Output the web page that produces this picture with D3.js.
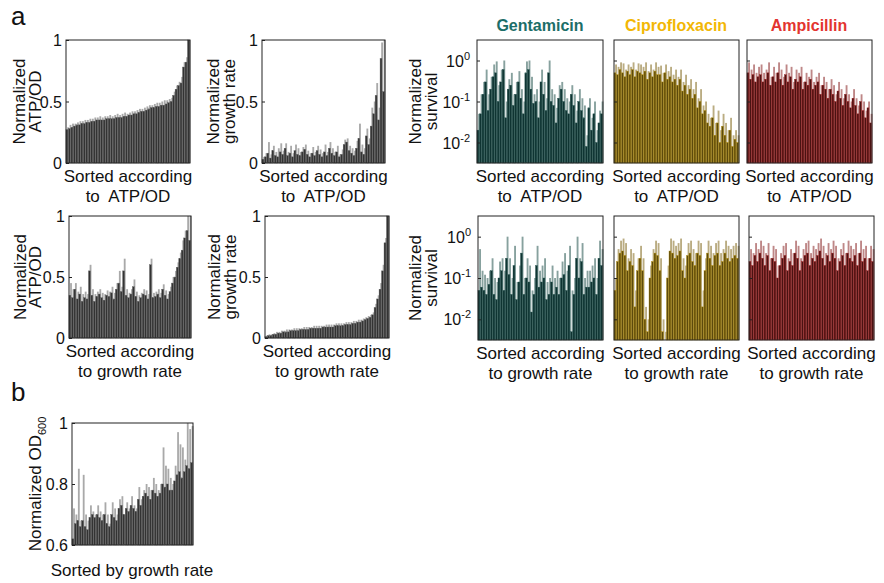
<!DOCTYPE html>
<html><head><meta charset="utf-8">
<script src="https://cdn.jsdelivr.net/npm/d3@7"></script>
<style>body{margin:0;background:#fff}svg{display:block;font-family:"Liberation Sans",Arial,sans-serif}</style>
</head><body><svg id="c" width="884" height="583"></svg>
<script>
// ---------- data ----------
const atpByAtpDark = [0.27,0.28,0.29,0.30,0.31,0.31,0.32,0.32,0.33,0.33,0.34,0.34,0.35,0.35,0.35,0.35,0.36,0.36,0.36,0.36,0.37,0.37,0.37,0.38,0.38,0.39,0.39,0.40,0.40,0.41,0.42,0.42,0.43,0.44,0.45,0.45,0.46,0.46,0.47,0.47,0.48,0.49,0.50,0.55,0.60,0.63,0.65,0.78,0.82,1.00];
const atpByAtpLight = [0.29,0.31,0.32,0.32,0.33,0.34,0.34,0.35,0.35,0.36,0.36,0.37,0.37,0.38,0.37,0.38,0.38,0.39,0.38,0.39,0.40,0.39,0.40,0.41,0.40,0.41,0.42,0.42,0.43,0.44,0.44,0.45,0.46,0.47,0.47,0.48,0.49,0.49,0.50,0.51,0.51,0.52,0.53,0.58,0.63,0.66,0.70,0.82,0.86,1.00];
const grByAtpDark = [0.03,0.05,0.08,0.04,0.10,0.06,0.05,0.09,0.07,0.12,0.06,0.08,0.05,0.10,0.07,0.06,0.09,0.11,0.07,0.05,0.08,0.06,0.10,0.07,0.05,0.09,0.06,0.12,0.08,0.06,0.09,0.05,0.07,0.15,0.17,0.10,0.08,0.06,0.12,0.20,0.09,0.07,0.22,0.15,0.30,0.40,0.55,0.35,0.85,0.58];
const grByAtpLight = [0.05,0.08,0.17,0.07,0.14,0.09,0.12,0.16,0.10,0.16,0.09,0.14,0.08,0.15,0.12,0.09,0.13,0.15,0.10,0.08,0.13,0.09,0.14,0.11,0.08,0.15,0.09,0.17,0.12,0.09,0.14,0.07,0.11,0.19,0.20,0.14,0.12,0.10,0.18,0.32,0.15,0.12,0.28,0.20,0.45,0.50,0.65,0.45,0.98,1.00];
const genByAtpDark = [0.02,0.05,0.15,0.3,0.06,0.2,0.4,0.5,0.1,0.3,0.6,0.04,0.2,0.25,0.08,0.15,0.3,0.12,0.05,0.5,0.6,0.2,0.09,0.1,0.04,0.3,0.15,0.06,0.5,0.1,0.08,0.03,0.12,0.2,0.1,0.06,0.05,0.15,0.08,0.03,0.1,0.06,0.04,0.008,0.07,0.02,0.05,0.01,0.03,0.05];
const genByAtpLight = [0.05,0.15,0.3,0.6,0.15,0.4,0.8,0.95,0.25,0.6,1.0,0.1,0.35,0.5,0.15,0.3,0.55,0.2,0.1,0.95,1.0,0.4,0.15,0.2,0.1,0.6,0.3,0.12,1.0,0.2,0.15,0.07,0.25,0.3,0.2,0.12,0.1,0.25,0.15,0.06,0.2,0.12,0.08,0.015,0.12,0.04,0.1,0.02,0.06,0.1];
const ciproByAtpDark = [0.5,0.45,0.6,0.5,0.4,0.55,0.45,0.6,0.4,0.55,0.5,0.45,0.55,0.35,0.5,0.4,0.55,0.45,0.45,0.3,0.5,0.35,0.4,0.3,0.35,0.25,0.35,0.18,0.25,0.15,0.2,0.12,0.15,0.07,0.1,0.05,0.06,0.03,0.025,0.04,0.015,0.03,0.01,0.025,0.015,0.01,0.02,0.008,0.012,0.01];
const ciproByAtpLight = [0.8,0.7,0.9,0.85,0.6,0.8,0.7,0.9,0.6,0.85,0.8,0.7,0.9,0.55,0.8,0.6,0.9,0.7,0.75,0.5,0.8,0.55,0.7,0.45,0.6,0.4,0.6,0.3,0.45,0.25,0.35,0.2,0.3,0.12,0.2,0.08,0.1,0.05,0.04,0.08,0.03,0.06,0.02,0.05,0.03,0.02,0.04,0.015,0.02,0.015];
const ampByAtpDark = [0.5,0.35,0.45,0.3,0.4,0.45,0.3,0.35,0.5,0.25,0.4,0.3,0.5,0.35,0.25,0.45,0.3,0.4,0.2,0.35,0.3,0.4,0.2,0.3,0.25,0.35,0.2,0.25,0.3,0.15,0.25,0.2,0.12,0.2,0.15,0.1,0.18,0.12,0.08,0.15,0.1,0.07,0.12,0.08,0.05,0.1,0.06,0.04,0.07,0.03];
const ampByAtpLight = [0.9,0.6,0.8,0.5,0.7,0.8,0.5,0.6,0.9,0.4,0.7,0.5,0.9,0.6,0.4,0.8,0.5,0.7,0.3,0.6,0.5,0.7,0.3,0.5,0.4,0.6,0.3,0.4,0.5,0.25,0.4,0.3,0.2,0.35,0.25,0.15,0.3,0.2,0.12,0.25,0.15,0.1,0.2,0.12,0.08,0.15,0.1,0.06,0.1,0.05];

const atpByGrDark = [0.35,0.33,0.40,0.32,0.36,0.30,0.33,0.32,0.55,0.35,0.30,0.34,0.36,0.33,0.31,0.35,0.34,0.37,0.32,0.40,0.45,0.38,0.55,0.35,0.33,0.36,0.42,0.34,0.30,0.33,0.36,0.35,0.32,0.60,0.33,0.34,0.36,0.33,0.40,0.35,0.32,0.38,0.45,0.50,0.58,0.65,0.72,0.82,0.88,0.80];
const atpByGrLight = [0.45,0.40,0.45,0.38,0.42,0.36,0.38,0.36,0.60,0.40,0.36,0.38,0.40,0.37,0.36,0.39,0.38,0.42,0.37,0.45,0.55,0.42,0.65,0.40,0.37,0.40,0.48,0.38,0.35,0.37,0.40,0.39,0.36,0.65,0.37,0.38,0.40,0.37,0.44,0.39,0.36,0.42,0.50,0.55,0.62,0.70,0.80,0.88,1.00,1.00];
const grByGrDark = [0.01,0.02,0.02,0.03,0.03,0.04,0.04,0.05,0.05,0.05,0.06,0.06,0.06,0.06,0.07,0.07,0.07,0.07,0.08,0.08,0.08,0.08,0.08,0.09,0.09,0.09,0.09,0.09,0.10,0.10,0.10,0.10,0.11,0.11,0.11,0.12,0.12,0.13,0.13,0.14,0.15,0.16,0.17,0.19,0.25,0.32,0.40,0.55,0.78,1.00];
const grByGrLight = [0.02,0.03,0.03,0.04,0.05,0.05,0.06,0.06,0.07,0.07,0.07,0.08,0.08,0.08,0.08,0.09,0.09,0.09,0.09,0.10,0.10,0.10,0.10,0.10,0.11,0.11,0.11,0.11,0.12,0.12,0.12,0.12,0.13,0.13,0.13,0.14,0.14,0.15,0.15,0.16,0.17,0.18,0.19,0.21,0.28,0.35,0.45,0.60,0.82,1.00];
const genByGrDark = [0.05,0.06,0.05,0.04,0.07,0.15,0.04,0.03,0.1,0.15,0.05,0.3,0.12,0.04,0.2,0.03,0.08,0.4,0.04,0.1,0.08,0.015,0.04,0.2,0.06,0.08,0.1,0.03,0.04,0.08,0.04,0.06,0.04,0.1,0.12,0.05,0.2,0.005,0.04,0.3,0.1,0.25,0.04,0.06,0.06,0.08,0.1,0.04,0.3,0.2];
const genByGrLight = [0.5,0.15,0.12,0.1,0.15,0.3,0.1,0.08,0.25,0.3,0.15,1.0,0.3,0.1,0.6,0.08,0.2,1.0,0.1,0.3,0.2,0.05,0.1,0.6,0.15,0.2,0.3,0.08,0.1,0.2,0.1,0.15,0.1,0.25,0.4,0.15,0.6,0.05,0.1,1.0,0.3,0.7,0.1,0.15,0.15,0.2,0.3,0.1,0.8,0.5];
const ciproByGrDark = [0.05,0.25,0.4,0.45,0.35,0.15,0.25,0.2,0.02,0.15,0.3,0.15,0.01,0.005,0.1,0.25,0.4,0.35,0.15,0.005,0.003,0.1,0.45,0.4,0.3,0.35,0.45,0.15,0.1,0.35,0.4,0.25,0.2,0.4,0.35,0.02,0.15,0.4,0.3,0.2,0.35,0.4,0.2,0.25,0.4,0.3,0.25,0.3,0.35,0.3];
const ciproByGrLight = [0.1,0.5,0.8,0.9,0.7,0.3,0.5,0.4,0.05,0.3,0.6,0.3,0.02,0.01,0.2,0.5,0.8,0.7,0.3,0.01,0.005,0.2,0.9,0.8,0.6,0.7,0.9,0.3,0.2,0.7,0.8,0.5,0.4,0.8,0.7,0.05,0.3,0.8,0.6,0.4,0.7,0.8,0.4,0.5,0.8,0.6,0.5,0.6,0.7,0.6];
const ampByGrDark = [0.25,0.2,0.35,0.25,0.4,0.3,0.2,0.35,0.15,0.3,0.25,0.1,0.2,0.3,0.35,0.15,0.25,0.2,0.4,0.3,0.15,0.25,0.35,0.4,0.2,0.3,0.25,0.35,0.45,0.3,0.2,0.35,0.25,0.4,0.3,0.15,0.25,0.35,0.2,0.4,0.3,0.25,0.35,0.2,0.4,0.25,0.3,0.15,0.3,0.25];
const ampByGrLight = [0.5,0.4,0.7,0.5,0.8,0.6,0.4,0.7,0.3,0.6,0.5,0.2,0.4,0.6,0.7,0.3,0.5,0.4,0.8,0.6,0.3,0.5,0.7,0.8,0.4,0.6,0.5,0.7,0.9,0.6,0.4,0.7,0.5,0.8,0.6,0.3,0.5,0.7,0.4,0.8,0.6,0.5,0.7,0.4,0.8,0.5,0.6,0.3,0.6,0.5];
const odByGrDark = [0.62,0.67,0.68,0.66,0.68,0.66,0.65,0.69,0.70,0.69,0.70,0.69,0.68,0.70,0.67,0.66,0.70,0.69,0.68,0.72,0.73,0.70,0.72,0.71,0.73,0.72,0.71,0.75,0.73,0.76,0.77,0.76,0.75,0.78,0.77,0.76,0.77,0.80,0.79,0.80,0.78,0.78,0.81,0.83,0.84,0.82,0.84,0.86,0.85,0.87];
const odByGrLight = [0.72,0.70,0.85,0.68,0.83,0.70,0.68,0.73,0.71,0.70,0.73,0.71,0.70,0.74,0.70,0.67,0.74,0.72,0.70,0.75,0.76,0.70,0.74,0.72,0.76,0.73,0.72,0.79,0.75,0.78,0.80,0.79,0.78,0.82,0.80,0.78,0.80,0.92,0.86,0.85,0.82,0.80,0.86,0.97,0.93,0.92,0.88,1.00,0.98,0.99];

const linTicks = ["0","0.5","1"];
const odTicks = ["0.6","0.8","1"];
const logTickExps = ["0","-1","-2"];
const drugNames = ["Gentamicin","Ciprofloxacin","Ampicillin"];

// ---------- styles ----------
const pal = {
  gray:  {light:"#a0a0a0", dark:"#333333", edge:"#5a5a5a"},
  gent:  {light:"#7a9794", dark:"#0f3432", edge:"#24514d"},
  cipro: {light:"#b3a374", dark:"#5c4a0c", edge:"#b38d0a"},
  amp:   {light:"#b77a7a", dark:"#4a1212", edge:"#9c1f1f"}
};
const titleColors = ["#1c6e68","#f2b705","#e3342f"];

const svg = d3.select("#c");

function panel(o){
  const g = svg.append("g");
  const n = o.dark.length;
  const x = d3.scaleBand().domain(d3.range(n)).range([o.x0,o.x1]).padding(0);
  const bw = x.bandwidth();
  let y;
  if(o.log){ y = d3.scaleLog().domain([Math.pow(10,-2.5),Math.pow(10,0.5)]).range([o.y1,o.y0]); }
  else { y = d3.scaleLinear().domain(o.domain).range([o.y1,o.y0]); }
  const base = o.log ? Math.pow(10,-2.5) : o.domain[0];
  const c = pal[o.pal];
  g.selectAll(".l").data(o.light).join("rect")
    .attr("x",(d,i)=>x(i)+bw*0.45).attr("width",bw*0.75)
    .attr("y",d=>y(d)).attr("height",d=>Math.max(0,y(base)-y(d)))
    .attr("fill",c.light).attr("opacity",0.9);
  g.selectAll(".d").data(o.dark).join("rect")
    .attr("x",(d,i)=>x(i)).attr("width",bw*0.75)
    .attr("y",d=>y(d)).attr("height",d=>Math.max(0,y(base)-y(d)))
    .attr("fill",c.dark).attr("stroke",c.edge).attr("stroke-width",0.4);
  g.append("rect").attr("x",o.x0).attr("y",o.y0).attr("width",o.x1-o.x0).attr("height",o.y1-o.y0)
    .attr("fill","none").attr("stroke","#222").attr("stroke-width",1);
  if(o.log){
    const ax = d3.axisLeft(y).tickValues([1,0.1,0.01]).tickSize(-3).tickFormat("");
    const ag = g.append("g").attr("transform",`translate(${o.x0},0)`).call(ax);
    ag.select(".domain").remove();
    ag.selectAll("line").attr("stroke","#222");
    if(!o.noTicks){
      [1,0.1,0.01].forEach((v,i)=>{
        const t = g.append("text").attr("x",o.x0-7).attr("y",y(v)+6).attr("text-anchor","end")
          .attr("font-size",16).attr("fill","#111");
        t.append("tspan").text("10");
        t.append("tspan").attr("dy",-7).attr("font-size",11).text(logTickExps[i]);
      });
    }
  } else {
    const vals = o.tickVals;
    const ax = d3.axisLeft(y).tickValues(vals).tickSize(-3).tickFormat("");
    const ag = g.append("g").attr("transform",`translate(${o.x0},0)`).call(ax);
    ag.select(".domain").remove();
    ag.selectAll("line").attr("stroke","#222");
    vals.forEach((v,i)=>{
      g.append("text").attr("x",o.x0-4).attr("y",y(v)+6).attr("text-anchor","end")
        .attr("font-size",16).attr("fill","#111").text(o.tickLabels[i]);
    });
  }
  const cy = (o.y0+o.y1)/2;
  o.ylab.forEach((s,i)=>{
    const t = g.append("text").attr("transform",`translate(${o.ylabX[i]},${cy}) rotate(-90)`)
      .attr("text-anchor","middle").attr("font-size",17).attr("fill","#111");
    if(typeof s === "string") t.text(s);
    else { t.append("tspan").text(s[0]); t.append("tspan").attr("dy",5).attr("font-size",11).text(s[1]); }
  });
  const cx = (o.x0+o.x1)/2;
  o.xlab.forEach((s,i)=>{
    g.append("text").attr("x",cx).attr("y",o.y1+19+i*19.5).attr("text-anchor","middle")
      .attr("font-size",17).attr("fill","#111").style("white-space","pre").text(s);
  });
}

const xA = ["Sorted according","to  ATP/OD"];
const xG = ["Sorted according","to growth rate"];
const r1 = [40,163], r2 = [216,338];

panel({x0:66,x1:190,y0:r1[0],y1:r1[1],dark:atpByAtpDark,light:atpByAtpLight,pal:"gray",domain:[0,1],tickVals:[0,0.5,1],tickLabels:linTicks,ylab:["Normalized","ATP/OD"],ylabX:[25,41],xlab:xA});
panel({x0:262,x1:385,y0:r1[0],y1:r1[1],dark:grByAtpDark,light:grByAtpLight,pal:"gray",domain:[0,1],tickVals:[0,0.5,1],tickLabels:linTicks,ylab:["Normalized","growth rate"],ylabX:[219,235],xlab:xA});
panel({x0:477,x1:603,y0:r1[0],y1:r1[1],dark:genByAtpDark,light:genByAtpLight,pal:"gent",log:true,ylab:["Normalized","survival"],ylabX:[421,437],xlab:xA});
panel({x0:614,x1:739,y0:r1[0],y1:r1[1],dark:ciproByAtpDark,light:ciproByAtpLight,pal:"cipro",log:true,noTicks:true,ylab:[],ylabX:[],xlab:xA});
panel({x0:747,x1:872,y0:r1[0],y1:r1[1],dark:ampByAtpDark,light:ampByAtpLight,pal:"amp",log:true,noTicks:true,ylab:[],ylabX:[],xlab:xA});

panel({x0:69,x1:191,y0:r2[0],y1:r2[1],dark:atpByGrDark,light:atpByGrLight,pal:"gray",domain:[0,1],tickVals:[0,0.5,1],tickLabels:linTicks,ylab:["Normalized","ATP/OD"],ylabX:[26,41],xlab:xG});
panel({x0:265,x1:389,y0:r2[0],y1:r2[1],dark:grByGrDark,light:grByGrLight,pal:"gray",domain:[0,1],tickVals:[0,0.5,1],tickLabels:linTicks,ylab:["Normalized","growth rate"],ylabX:[220,236],xlab:xG});
panel({x0:478,x1:603,y0:r2[0],y1:r2[1]+2,dark:genByGrDark,light:genByGrLight,pal:"gent",log:true,ylab:["Normalized","survival"],ylabX:[421,437],xlab:xG});
panel({x0:614,x1:739,y0:r2[0],y1:r2[1]+2,dark:ciproByGrDark,light:ciproByGrLight,pal:"cipro",log:true,noTicks:true,ylab:[],ylabX:[],xlab:xG});
panel({x0:749,x1:874,y0:r2[0],y1:r2[1]+2,dark:ampByGrDark,light:ampByGrLight,pal:"amp",log:true,noTicks:true,ylab:[],ylabX:[],xlab:xG});

panel({x0:72,x1:193,y0:423,y1:545,dark:odByGrDark,light:odByGrLight,pal:"gray",domain:[0.6,1],tickVals:[0.6,0.8,1],tickLabels:odTicks,ylab:[["Normalized OD","600"]],ylabX:[41],xlab:[]});

[[540,drugNames[0]],[676,drugNames[1]],[809,drugNames[2]]].forEach((d,i)=>{
  svg.append("text").attr("x",d[0]).attr("y",31).attr("text-anchor","middle").attr("font-size",16)
    .attr("font-weight","bold").attr("fill",titleColors[i]).text(d[1]);
});
svg.append("text").attr("x",132).attr("y",576).attr("text-anchor","middle").attr("font-size",17).attr("fill","#111").text("Sorted by growth rate");
svg.append("text").attr("x",11).attr("y",25).attr("font-size",26).attr("fill","#111").text("a");
svg.append("text").attr("x",11).attr("y",401).attr("font-size",26).attr("fill","#111").text("b");
</script></body></html>
